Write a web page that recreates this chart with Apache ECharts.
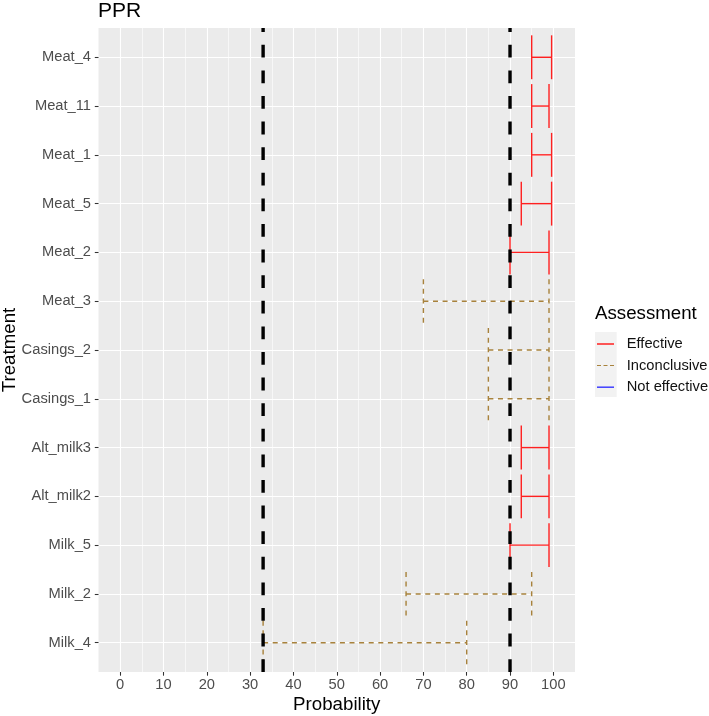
<!DOCTYPE html>
<html><head><meta charset="utf-8">
<script src="https://cdn.jsdelivr.net/npm/echarts@6/dist/echarts.min.js"></script>
<style>html,body{margin:0;padding:0;background:#fff}#c{width:709px;height:716px}</style>
</head><body><div id="c"></div>
<script>
// ---- data ----
const categories = ['Meat_4','Meat_11','Meat_1','Meat_5','Meat_2','Meat_3','Casings_2','Casings_1','Alt_milk3','Alt_milk2','Milk_5','Milk_2','Milk_4'];
const lowerBound = [95, 95, 95, 92.6, 90, 70, 85, 85, 92.6, 92.6, 90, 66, 33];
const upperBound = [99.6, 99, 99.6, 99.6, 99, 99, 99, 99, 99, 99, 99, 95, 80];
const assessment = ['Effective','Effective','Effective','Effective','Effective','Inconclusive','Inconclusive','Inconclusive','Effective','Effective','Effective','Inconclusive','Inconclusive'];
const assessmentLevels = ['Effective','Inconclusive','Not effective'];
const thresholds = [33, 90];
const xTicks = [0,10,20,30,40,50,60,70,80,90,100];
const xMinorTicks = [5,15,25,35,45,55,65,75,85,95];

// ---- styles ----
const FONT = '"Liberation Sans", Arial, sans-serif';
const levelStyle = {
  'Effective': {color: '#FF2020', dash: null, icon: 'rect'},
  'Inconclusive': {color: '#A8823C', dash: [5, 4.6], icon: 'path://M0,0h4v1h-4zM6.5,0h4v1h-4zM13,0h4v1h-4z'},
  'Not effective': {color: '#4040FF', dash: null, icon: 'rect'}
};
const catIdx = categories.map((_, i) => i);

function barData(level) {
  const out = [];
  categories.forEach((c, i) => { if (assessment[i] === level) out.push([i, lowerBound[i], upperBound[i]]); });
  return out;
}

const chart = echarts.init(document.getElementById('c'), null, {renderer: 'canvas'});

const errSeries = assessmentLevels.map(level => ({
  name: level,
  type: 'custom',
  xAxisIndex: 0, yAxisIndex: 0,
  silent: true,
  itemStyle: {color: levelStyle[level].color},
  encode: {x: [1, 2], y: 0},
  data: barData(level),
  z: 3,
  renderItem: function (params, api) {
    const i = api.value(0), lo = api.value(1), hi = api.value(2);
    const pL = api.coord([lo, i]), pH = api.coord([hi, i]);
    const t = api.coord([lo, i - 0.45])[1], b = api.coord([lo, i + 0.45])[1];
    const st = {stroke: levelStyle[level].color, lineWidth: 1.4, lineDash: levelStyle[level].dash, fill: null};
    return {type: 'group', children: [
      {type: 'line', shape: {x1: pL[0], y1: pL[1], x2: pH[0], y2: pH[1]}, style: st},
      {type: 'line', shape: {x1: pL[0], y1: t, x2: pL[0], y2: b}, style: st},
      {type: 'line', shape: {x1: pH[0], y1: t, x2: pH[0], y2: b}, style: st}
    ]};
  }
}));

const vlineSeries = thresholds.map(v => ({
  type: 'line',
  xAxisIndex: 0, yAxisIndex: 0,
  silent: true,
  symbol: 'none',
  data: [[v, 12.6], [v, -0.6]],
  lineStyle: {color: '#000', width: 3.4, type: [12.8, 12.8], cap: 'butt'},
  z: 5
}));

const option = {
  animation: false,
  backgroundColor: '#fff',
  title: [
    {text: 'PPR', left: 98, top: 1, padding: 0, textStyle: {fontFamily: FONT, fontSize: 21, fontWeight: 'normal', color: '#000', lineHeight: 21}},
    {text: 'Assessment', left: 595, top: 304, padding: 0, textStyle: {fontFamily: FONT, fontSize: 18.7, fontWeight: 'normal', color: '#000', lineHeight: 19}}
  ],
  graphic: [{type: 'rect', left: 595, top: 332, shape: {width: 21.7, height: 65}, style: {fill: '#F2F2F2'}, z: -1}],
  legend: {
    orient: 'vertical', left: 597, top: 336, padding: 0,
    itemWidth: 17, itemHeight: 1.5, itemGap: 5.6,
    selectedMode: false,
    textStyle: {fontFamily: FONT, fontSize: 14.7, color: '#111111', lineHeight: 16, padding: [0, 0, 0, 7.7]},
    data: assessmentLevels.map(l => ({name: l, icon: levelStyle[l].icon, itemStyle: {color: levelStyle[l].color}}))
  },
  grid: {left: 98.5, right: 134, top: 28, bottom: 44, show: true, backgroundColor: '#EBEBEB', borderWidth: 0, containLabel: false, outerBoundsMode: 'none'},
  xAxis: [
    {type: 'value', min: -5, max: 105, position: 'bottom',
     axisLine: {show: false, onZero: false}, axisTick: {show: false, customValues: xMinorTicks},
     axisLabel: {show: false, customValues: xMinorTicks},
     splitLine: {show: true, lineStyle: {color: '#FFFFFF', width: 0.6}}},
    {type: 'value', min: -5, max: 105, position: 'bottom',
     name: 'Probability', nameLocation: 'middle', nameGap: 23.5, nameMoveOverlap: false,
     nameTextStyle: {fontFamily: FONT, fontSize: 18.7, color: '#000', lineHeight: 19},
     axisLine: {show: false, onZero: false},
     axisTick: {show: true, customValues: xTicks, length: 3.7, lineStyle: {color: '#333333', width: 1.07}},
     axisLabel: {customValues: xTicks, fontFamily: FONT, fontSize: 14.7, color: '#4D4D4D', margin: 5.5, lineHeight: 15},
     splitLine: {show: true, lineStyle: {color: '#FFFFFF', width: 1.1}}}
  ],
  yAxis: {
    type: 'value', min: -0.6, max: 12.6, inverse: true, position: 'left',
    name: 'Treatment', nameLocation: 'middle', nameGap: 79.5, nameRotate: 90, nameMoveOverlap: false,
    nameTextStyle: {fontFamily: FONT, fontSize: 18.7, color: '#000', lineHeight: 19},
    axisLine: {show: false, onZero: false},
    axisTick: {show: true, customValues: catIdx, length: 3.7, lineStyle: {color: '#333333', width: 1.07}},
    axisLabel: {customValues: catIdx, formatter: v => categories[Math.round(v)], fontFamily: FONT, fontSize: 14.7, color: '#4D4D4D', margin: 7.5},
    splitLine: {show: true, lineStyle: {color: '#FFFFFF', width: 1.1}}
  },
  series: errSeries.concat(vlineSeries)
};
chart.setOption(option);
</script></body></html>
